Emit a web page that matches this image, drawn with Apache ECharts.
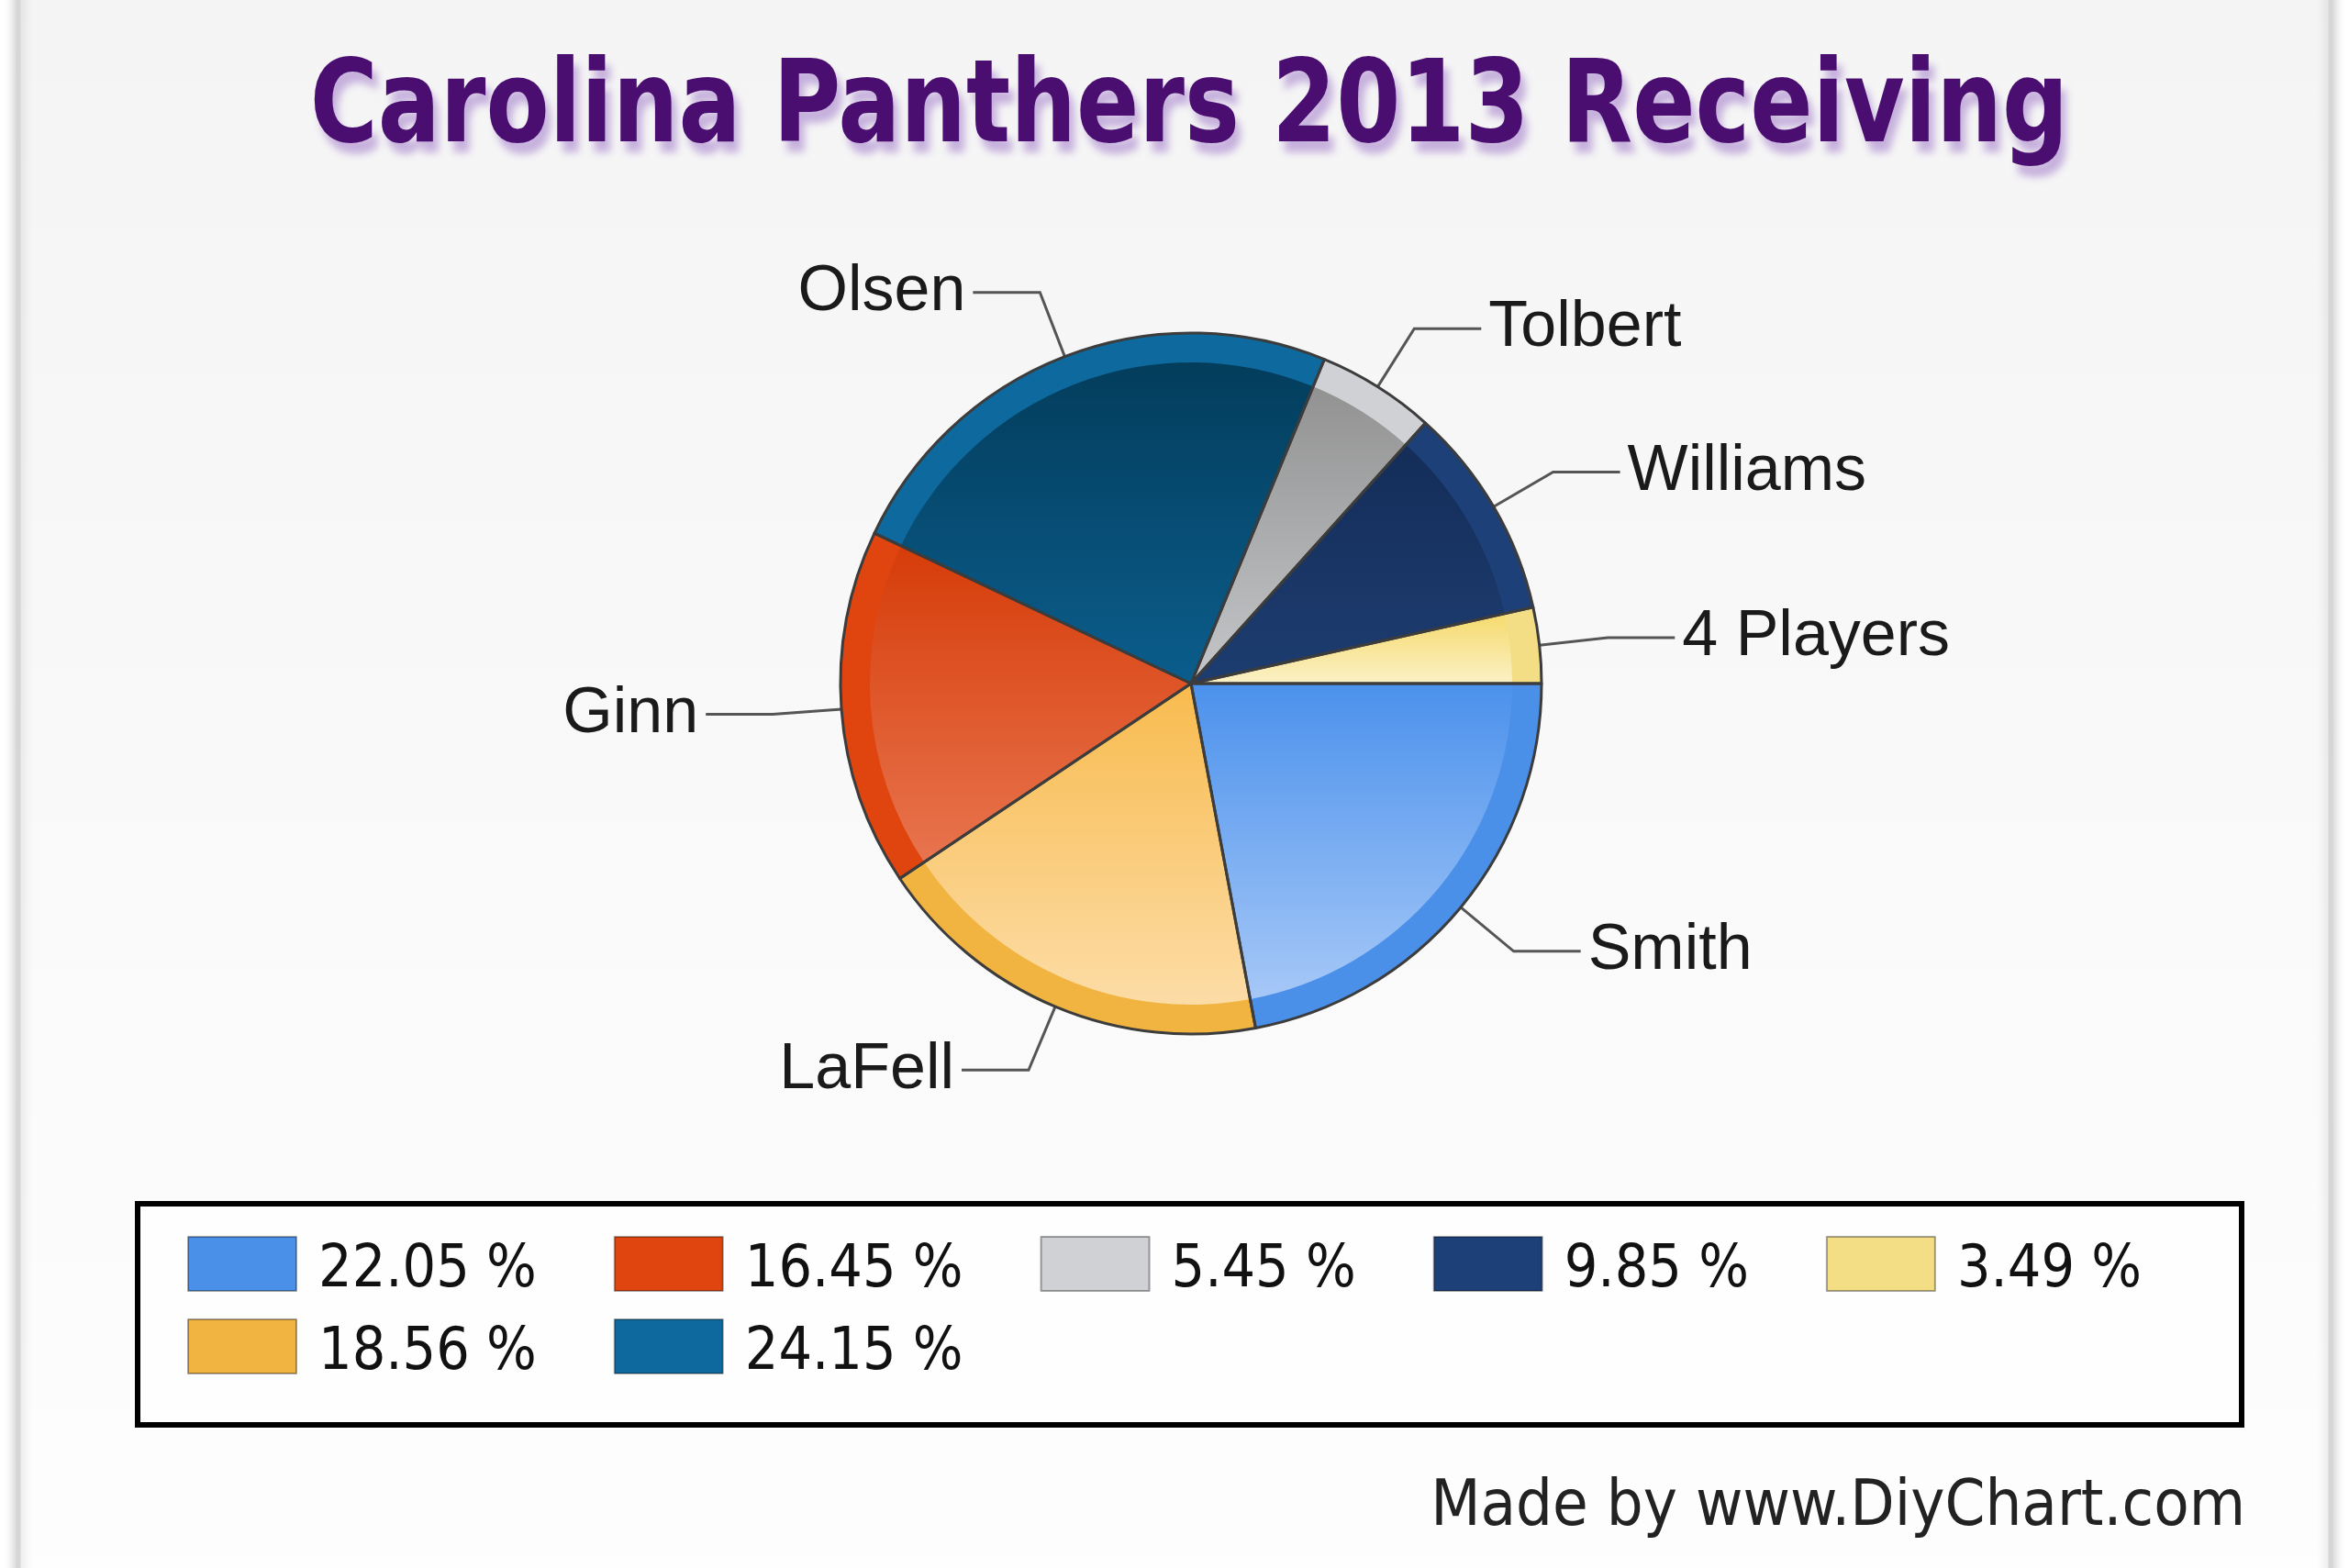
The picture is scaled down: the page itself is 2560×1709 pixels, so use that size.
<!DOCTYPE html>
<html>
<head>
<meta charset="utf-8">
<title>Carolina Panthers 2013 Receiving</title>
<script src="https://cdn.jsdelivr.net/npm/echarts@6/dist/echarts.min.js"></script>
<style>
  html, body { margin: 0; padding: 0; background: #fff; }
  #chart { width: 2560px; height: 1709px; }
</style>
</head>
<body>
<div id="chart"></div>
<script>
// slices in drawing order (clockwise from 3 o'clock)
var players = ['Smith', 'LaFell', 'Ginn', 'Olsen', 'Tolbert', 'Williams', '4 Players'];
var shares = [22.05, 18.56, 16.45, 24.15, 5.45, 9.85, 3.49];
// legend rows as printed under the pie
var legendRow1 = ['Smith', 'Ginn', 'Tolbert', 'Williams', '4 Players'];
var legendRow2 = ['LaFell', 'Olsen'];

// colours: outer bevel ring, inner gradient top / bottom
var ringColors = ['#4a8fe8', '#f2b440', '#e0450f', '#0e6a9e', '#cfd1d4', '#1d4078', '#f3de86'];
var topColors = ['#4b91ec', '#f8bb4e', '#d63c09', '#033d5c', '#929292', '#142d59', '#f5da6c'];
var bottomColors = ['#a6c8f7', '#fcdca6', '#e8744e', '#0b5d8c', '#c4c6c9', '#1d3d70', '#fbf1c6'];

var CX = 1298, CY = 745, R = 382, R_IN = 350;

function pieData(styleFn) {
    return players.map(function (name, i) {
        return { name: name, value: shares[i], itemStyle: styleFn(i) };
    });
}

function legendText(name) {
    return '{v|' + shares[players.indexOf(name)].toFixed(2) + ' %}';
}

var legendBase = {
    left: 204,
    orient: 'horizontal',
    padding: 0,
    itemWidth: 118,
    itemHeight: 59,
    itemGap: 84,
    icon: 'rect',
    selectedMode: false,
    formatter: legendText,
    itemStyle: { borderColor: 'rgba(0,0,0,0.35)', borderWidth: 2 },
    textStyle: {
        fontFamily: 'DejaVu Sans Condensed',
        fontSize: 64,
        color: '#111',
        rich: {
            v: {
                fontFamily: 'DejaVu Sans Condensed',
                fontSize: 64,
                color: '#111',
                padding: [16, 0, 0, 19]
            }
        }
    }
};

var chart = echarts.init(document.getElementById('chart'));
var option = {
    animation: false,
    backgroundColor: '#ffffff',
    graphic: [
        {   // panel
            type: 'rect',
            z: -10,
            shape: { x: 20, y: -60, width: 2520, height: 1830, r: 40 },
            style: {
                fill: {
                    type: 'linear', x: 0, y: 0, x2: 0, y2: 1,
                    colorStops: [{ offset: 0, color: '#f4f4f4' }, { offset: 1, color: '#fefefe' }]
                },
                stroke: '#d6d6d6',
                lineWidth: 5,
                shadowBlur: 14,
                shadowColor: 'rgba(0,0,0,0.22)'
            }
        },
        {   // legend box
            type: 'rect',
            z: -5,
            shape: { x: 150, y: 1312, width: 2293, height: 241 },
            style: { fill: '#fefefe', stroke: '#000', lineWidth: 6 }
        },
        {   // main title, slightly stretched vertically like the original
            type: 'text',
            z: 10,
            x: 1296,
            y: 59,
            scaleY: 1.12,
            style: {
                text: 'Carolina Panthers 2013 Receiving',
                font: 'bold 112px "DejaVu Sans Condensed"',
                fill: '#4a0e70',
                align: 'center',
                verticalAlign: 'top',
                textShadowColor: 'rgba(140,90,190,0.45)',
                textShadowBlur: 8,
                textShadowOffsetX: 6,
                textShadowOffsetY: 12
            }
        }
    ],
    title: {
        text: 'Made by www.DiyChart.com',
        right: 108,
        top: 1604,
        textStyle: {
            fontFamily: 'DejaVu Sans Condensed',
            fontWeight: 'normal',
            fontSize: 70,
            color: '#222'
        }
    },
    legend: [
        Object.assign({}, legendBase, { top: 1347, data: legendRow1 }),
        Object.assign({}, legendBase, { top: 1437, data: legendRow2 })
    ],
    series: [
        {   // outer bevel ring (also gives legend its colours)
            type: 'pie',
            z: 1,
            silent: true,
            center: [CX, CY],
            radius: [0, R],
            startAngle: 0,
            clockwise: true,
            label: { show: false },
            labelLine: { show: false },
            data: pieData(function (i) {
                return { color: ringColors[i] };
            })
        },
        {   // inner gradient face
            type: 'pie',
            z: 2,
            silent: true,
            center: [CX, CY],
            radius: [0, R_IN],
            startAngle: 0,
            clockwise: true,
            label: { show: false },
            labelLine: { show: false },
            data: pieData(function (i) {
                return {
                    color: {
                        type: 'linear', x: 0, y: 0, x2: 0, y2: 1,
                        colorStops: [
                            { offset: 0, color: topColors[i] },
                            { offset: 1, color: bottomColors[i] }
                        ]
                    }
                };
            })
        },
        {   // outlines + labels
            type: 'pie',
            z: 3,
            silent: true,
            center: [CX, CY],
            radius: [0, R],
            startAngle: 0,
            clockwise: true,
            avoidLabelOverlap: false,
            label: {
                show: true,
                position: 'outside',
                formatter: '{b}',
                fontFamily: 'Liberation Sans',
                fontSize: 70,
                color: '#1a1a1a',
                distanceToLabelLine: 8
            },
            labelLine: {
                show: true,
                length: 75,
                length2: 73,
                lineStyle: { color: '#555', width: 3 }
            },
            data: pieData(function () {
                return { color: 'rgba(0,0,0,0)', borderColor: '#3c3c3c', borderWidth: 3 };
            })
        }
    ]
};
chart.setOption(option);
</script>
</body>
</html>
